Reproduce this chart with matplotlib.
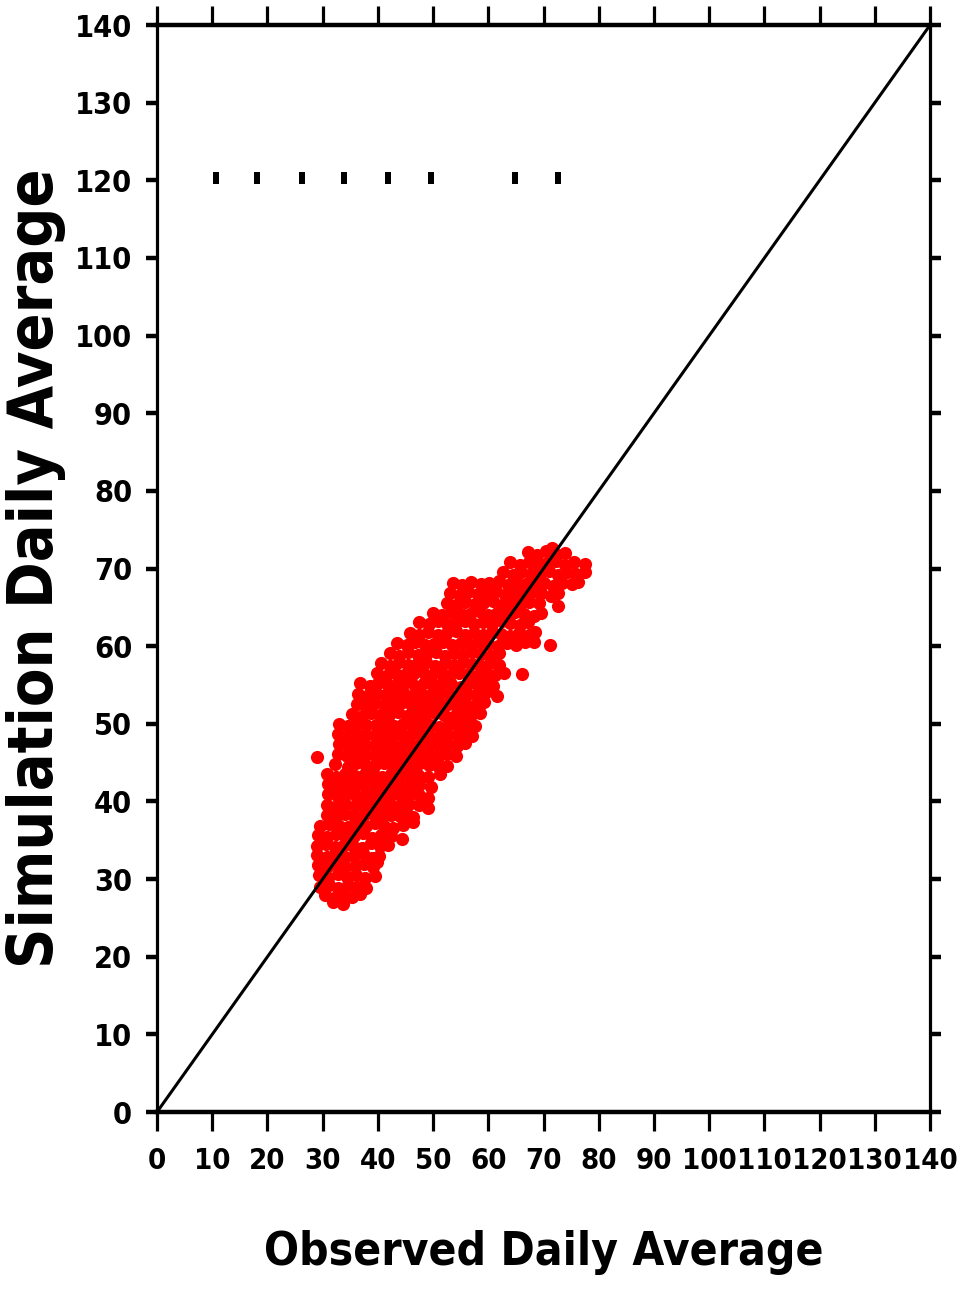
# Observed vs simulated daily average, with 1:1 line
import matplotlib
matplotlib.use("Agg")
import matplotlib.pyplot as plt

plt.rcParams['font.family'] = ['DejaVu Sans']
plt.rcParams['font.stretch'] = 'condensed'
plt.rcParams['font.weight'] = 'bold'

# daily averages (observed, simulated)
obs_daily = [
    31.8, 33.6,
    30.4, 32.1, 33.9, 35.4, 36.8,
    29.5, 31.2, 32.8, 34.6, 36.3, 37.9,
    29.4, 31.0, 32.7, 34.4, 36.0, 37.6, 39.5,
    29.1, 30.8, 32.5, 34.1, 35.8, 37.4, 39.1, 39.9,
    29.0, 30.7, 32.3, 34.0, 35.6, 37.3, 38.9, 40.2,
    29.0, 30.6, 32.2, 33.9, 35.5, 37.1, 38.8, 40.4, 41.9,
    29.1, 30.8, 32.4, 34.0, 35.7, 37.3, 39.0, 40.6, 42.3, 44.3,
    29.5, 31.2, 32.9, 34.5, 36.2, 37.8, 39.5, 41.1, 42.8, 44.5, 46.3,
    30.8, 32.4, 34.1, 35.7, 37.4, 39.0, 40.7, 42.3, 44.0, 45.3, 46.4,
    30.8, 32.5, 34.1, 35.8, 37.4, 39.1, 40.7, 42.4, 44.0, 45.7, 47.4, 49.0,
    31.0, 32.7, 34.3, 36.0, 37.6, 39.3, 40.9, 42.6, 44.2, 45.9, 47.5, 49.1,
    30.9, 32.6, 34.2, 35.9, 37.5, 39.2, 40.8, 42.5, 44.1, 45.8, 47.4, 49.6,
    30.8, 32.5, 34.1, 35.8, 37.4, 39.1, 40.7, 42.4, 44.0, 45.7, 47.3, 49.0, 51.2,
    32.2, 34.5, 36.1, 37.8, 39.4, 41.1, 42.7, 44.4, 46.0, 47.7, 49.3, 51.0, 52.5,
    29.0, 32.8, 34.4, 36.1, 37.7, 39.4, 41.0, 42.7, 44.3, 46.0, 47.6, 49.3, 50.9, 52.6, 54.2,
    32.9, 34.6, 36.2, 37.9, 39.5, 41.2, 42.8, 44.5, 46.1, 47.8, 49.4, 51.1, 52.7, 54.4, 55.8,
    32.8, 34.5, 36.1, 37.8, 39.4, 41.1, 42.7, 44.4, 46.0, 47.7, 49.3, 51.0, 52.6, 54.3, 55.9, 57.0,
    33.0, 34.6, 36.3, 37.9, 39.6, 41.2, 42.9, 44.5, 46.2, 47.8, 49.5, 51.1, 52.8, 54.4, 56.1, 57.6,
    35.4, 37.1, 38.7, 40.4, 42.0, 43.7, 45.3, 47.0, 48.6, 50.3, 51.9, 53.6, 55.2, 56.9, 58.5,
    36.2, 37.9, 39.5, 41.2, 42.8, 44.5, 46.1, 47.8, 49.4, 51.1, 52.7, 54.4, 56.0, 57.7, 59.2,
    36.4, 38.0, 39.6, 41.3, 42.9, 44.6, 46.2, 47.9, 49.5, 51.2, 52.8, 54.5, 56.1, 57.8, 59.4, 61.6,
    36.8, 38.5, 40.1, 41.8, 43.4, 45.1, 46.7, 48.4, 50.0, 51.7, 53.3, 55.0, 56.6, 58.2, 59.6, 60.9,
    39.8, 41.5, 43.1, 44.8, 46.4, 48.1, 49.7, 51.4, 53.0, 54.7, 56.3, 58.0, 59.6, 61.3, 62.9, 66.1,
    40.5, 42.2, 43.8, 45.5, 47.1, 48.8, 50.4, 52.1, 53.7, 55.4, 57.0, 58.7, 60.3, 61.9,
    42.2, 43.9, 45.5, 47.2, 48.8, 50.5, 52.1, 53.8, 55.4, 57.1, 58.7, 60.4, 62.0,
    43.5, 45.2, 46.8, 48.5, 50.1, 51.8, 53.4, 55.1, 56.7, 58.4, 60.0, 61.7, 63.3, 65.0, 66.6, 68.3, 71.2,
    45.8, 47.5, 49.1, 50.8, 52.4, 54.1, 55.7, 57.4, 59.0, 60.7, 62.3, 64.0, 65.6, 67.3, 68.5,
    47.5, 49.2, 50.8, 52.5, 54.1, 55.8, 57.4, 59.1, 60.7, 62.4, 64.0, 65.7, 67.2,
    50.0, 51.7, 53.3, 55.0, 56.6, 58.3, 59.9, 61.6, 63.2, 64.9, 66.5, 68.2, 69.6,
    52.5, 54.2, 55.8, 57.5, 59.1, 60.8, 62.4, 64.1, 65.7, 67.4, 69.2, 72.6,
    53.1, 54.8, 56.4, 58.1, 59.7, 61.4, 63.0, 64.7, 66.3, 68.0, 69.6, 71.3, 72.7,
    53.6, 55.3, 56.9, 58.6, 60.2, 61.9, 63.5, 65.2, 66.8, 68.5, 70.1, 71.8, 73.4, 75.1, 76.3,
    62.7, 64.4, 66.0, 67.7, 69.3, 71.0, 72.6, 74.3, 75.9, 77.6,
    64.0, 65.7, 67.3, 69.0, 70.6, 72.3, 73.9, 75.6, 77.5,
    67.2, 68.9, 70.5, 72.2, 73.8,
    71.6,
]
sim_daily = [
    27.0, 26.8,
    27.9, 27.6, 28.0, 27.7, 28.1,
    29.0, 29.3, 28.9, 29.2, 29.0, 28.8,
    30.5, 30.2, 30.6, 30.3, 30.5, 30.1, 30.4,
    31.8, 31.5, 31.9, 31.6, 31.7, 32.0, 31.5, 32.2,
    33.1, 32.8, 33.2, 32.9, 33.0, 33.3, 32.7, 33.0,
    34.2, 34.5, 34.1, 34.4, 34.3, 34.0, 34.6, 34.2, 34.4,
    35.7, 35.4, 35.8, 35.5, 35.6, 35.9, 35.3, 35.7, 35.5, 35.2,
    36.8, 37.1, 36.9, 36.7, 37.0, 36.8, 37.2, 36.9, 36.6, 37.0, 37.3,
    38.3, 38.0, 38.4, 38.1, 38.2, 38.5, 38.0, 38.3, 38.1, 38.4, 38.0,
    39.6, 39.3, 39.7, 39.4, 39.5, 39.8, 39.3, 39.6, 39.4, 39.7, 39.5, 39.2,
    40.9, 40.6, 41.0, 40.7, 40.8, 41.1, 40.6, 40.9, 40.7, 41.0, 40.8, 40.5,
    42.2, 41.9, 42.3, 42.0, 42.1, 42.4, 41.9, 42.2, 42.0, 42.3, 42.1, 41.8,
    43.5, 43.2, 43.6, 43.3, 43.4, 43.7, 43.2, 43.5, 43.3, 43.6, 43.4, 43.1, 43.5,
    44.8, 44.5, 44.9, 44.6, 44.7, 45.0, 44.5, 44.8, 44.6, 44.9, 44.7, 44.4, 44.6,
    45.7, 46.1, 45.8, 46.2, 45.9, 46.0, 46.3, 45.8, 46.1, 45.9, 46.2, 46.0, 45.7, 46.1, 45.9,
    47.4, 47.1, 47.5, 47.2, 47.3, 47.6, 47.1, 47.4, 47.2, 47.5, 47.3, 47.0, 47.4, 47.2, 47.5,
    48.7, 48.4, 48.8, 48.5, 48.6, 48.9, 48.4, 48.7, 48.5, 48.8, 48.6, 48.3, 48.7, 48.5, 48.8, 48.4,
    50.0, 49.7, 50.1, 49.8, 49.9, 50.2, 49.7, 50.0, 49.8, 50.1, 49.9, 49.6, 50.0, 49.8, 50.1, 49.7,
    51.3, 51.0, 51.4, 51.1, 51.2, 51.5, 51.0, 51.3, 51.1, 51.4, 51.2, 50.9, 51.3, 51.1, 51.4,
    52.6, 52.3, 52.7, 52.4, 52.5, 52.8, 52.3, 52.6, 52.4, 52.7, 52.5, 52.2, 52.6, 52.4, 52.8,
    53.9, 53.6, 54.0, 53.7, 53.8, 54.1, 53.6, 53.9, 53.7, 54.0, 53.8, 53.5, 53.9, 53.7, 54.0, 53.6,
    55.2, 54.9, 55.3, 55.0, 55.1, 55.4, 54.9, 55.2, 55.0, 55.3, 55.1, 54.8, 55.2, 55.0, 55.3, 54.9,
    56.5, 56.2, 56.6, 56.3, 56.4, 56.7, 56.2, 56.5, 56.3, 56.6, 56.4, 56.1, 56.5, 56.3, 56.6, 56.4,
    57.8, 57.5, 57.9, 57.6, 57.7, 58.0, 57.5, 57.8, 57.6, 57.9, 57.7, 57.4, 57.8, 57.6,
    59.1, 58.8, 59.2, 58.9, 59.0, 59.3, 58.8, 59.1, 58.9, 59.2, 59.0, 58.7, 59.1,
    60.4, 60.1, 60.5, 60.2, 60.3, 60.6, 60.1, 60.4, 60.2, 60.5, 60.3, 60.0, 60.4, 60.2, 60.5, 60.6, 60.1,
    61.7, 61.4, 61.8, 61.5, 61.6, 61.9, 61.4, 61.7, 61.5, 61.8, 61.6, 61.3, 61.7, 61.5, 61.8,
    63.1, 62.8, 63.2, 62.9, 63.0, 63.3, 62.8, 63.1, 62.9, 63.2, 63.0, 62.7, 63.1,
    64.3, 64.0, 64.4, 64.1, 64.2, 64.5, 64.0, 64.3, 64.1, 64.4, 64.2, 63.9, 64.3,
    65.6, 65.3, 65.7, 65.4, 65.5, 65.8, 65.3, 65.6, 65.4, 65.7, 65.5, 65.2,
    66.9, 66.6, 67.0, 66.7, 66.8, 67.1, 66.6, 66.9, 66.7, 67.0, 66.8, 66.5, 66.9,
    68.2, 67.9, 68.3, 68.0, 68.1, 68.4, 67.9, 68.2, 68.0, 68.3, 68.1, 67.8, 68.2, 68.0, 68.3,
    69.5, 69.2, 69.6, 69.3, 69.4, 69.7, 69.2, 69.5, 69.3, 69.6,
    70.8, 70.5, 70.9, 70.6, 70.7, 71.0, 70.5, 70.8, 70.6,
    72.1, 71.8, 72.2, 71.9, 72.0,
    72.7,
]

# short marks along the 120 level
mark_x = [10.6, 18.1, 26.2, 33.8, 41.8, 49.6, 64.9, 72.6]
mark_y = [120.3] * len(mark_x)

ticks = list(range(0, 141, 10))

fig = plt.figure(figsize=(9.58, 12.92), dpi=100)
ax = fig.add_axes([0.1639, 0.1393, 0.8069, 0.8413])

ax.scatter(obs_daily, sim_daily, s=90, c='#ff0000', marker='o',
           linewidths=0, zorder=2)
ax.plot([0, 140], [0, 140], color='black', lw=2.2, zorder=3)

rect = [(-0.5, -1), (0.5, -1), (0.5, 1), (-0.5, 1)]
ax.plot(mark_x, mark_y, ls='none', marker=rect, ms=9, color='black', mew=0)

ax.set_xlim(0, 140)
ax.set_ylim(0, 140)
ax.set_xticks(ticks)
ax.set_yticks(ticks)

for side in ['top', 'bottom']:
    ax.spines[side].set_linewidth(3.2)
for side in ['left', 'right']:
    ax.spines[side].set_linewidth(2.3)

ax.tick_params(axis='x', direction='out', length=14, width=2.3,
               top=True, labelsize=21, pad=11)
ax.tick_params(axis='y', direction='out', length=8, width=3.2,
               right=True, labelsize=22, pad=10)

ax.set_xlabel('Observed Daily Average', fontsize=33, fontweight='bold',
              va='center')
ax.xaxis.set_label_coords(0.5, -0.1288)
ax.set_ylabel('Simulation Daily Average', fontsize=45, fontweight='bold',
              va='center')
ax.yaxis.set_label_coords(-0.1565, 0.5)

fig.savefig('out.png', dpi=100)
